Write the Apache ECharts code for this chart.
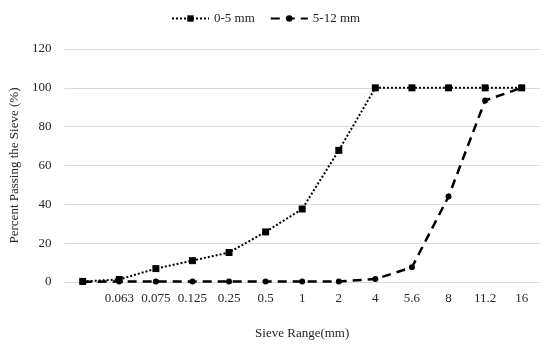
<!DOCTYPE html>
<html><head><meta charset="utf-8">
<script src="https://cdn.jsdelivr.net/npm/echarts@6/dist/echarts.min.js"></script>
<style>html,body{margin:0;padding:0;background:#fff}#c{width:550px;height:345px}</style>
</head><body><div id="c"></div>
<script>
var categories = ['', '0.063', '0.075', '0.125', '0.25', '0.5', '1', '2', '4', '5.6', '8', '11.2', '16'];
var fine = [0.3, 1.3, 6.9, 11, 15.2, 25.8, 37.6, 67.8, 100, 100, 100, 100, 100];
var coarse = [0, 0.3, 0.3, 0.3, 0.3, 0.3, 0.3, 0.3, 1.5, 7.6, 44, 93.5, 100];
var yTicks = [0, 20, 40, 60, 80, 100, 120];
var font = '"Liberation Serif", "Times New Roman", serif';
var chart = echarts.init(document.getElementById('c'));
chart.setOption({
  animation: false,
  textStyle: {fontFamily: font},
  legend: {
    top: 7, left: 166, itemGap: 15, itemWidth: 37, itemHeight: 8,
    textStyle: {fontFamily: font, fontSize: 13, color: '#262626'},
    data: ['0-5 mm', '5-12 mm']
  },
  grid: {left: 58, right: 10, top: 49, bottom: 63},
  xAxis: {
    type: 'category', data: categories, boundaryGap: true,
    name: 'Sieve Range(mm)', nameLocation: 'middle', nameGap: 45,
    nameTextStyle: {fontFamily: font, fontSize: 13, color: '#262626'},
    axisLine: {lineStyle: {color: '#d9d9d9'}},
    axisTick: {show: false},
    axisLabel: {interval: 0, fontFamily: font, fontSize: 13, color: '#262626', margin: 10}
  },
  yAxis: {
    type: 'value', min: yTicks[0], max: yTicks[yTicks.length - 1], interval: 20,
    name: 'Percent Passing the Sieve (%)', nameLocation: 'middle', nameGap: 38,
    nameTextStyle: {fontFamily: font, fontSize: 13, color: '#262626'},
    axisLine: {show: false}, axisTick: {show: false},
    axisLabel: {fontFamily: font, fontSize: 13, color: '#262626', margin: 13},
    splitLine: {lineStyle: {color: '#d9d9d9'}}
  },
  series: [
    {name: '5-12 mm', type: 'line', data: coarse, symbol: 'circle', symbolSize: 6,
     itemStyle: {color: '#000'}, lineStyle: {color: '#000', width: 2.5, type: [9, 6]}},
    {name: '0-5 mm', type: 'line', data: fine, symbol: 'rect', symbolSize: 7,
     itemStyle: {color: '#000'}, lineStyle: {color: '#000', width: 2, type: [2, 2]}}
  ]
});
</script></body></html>
